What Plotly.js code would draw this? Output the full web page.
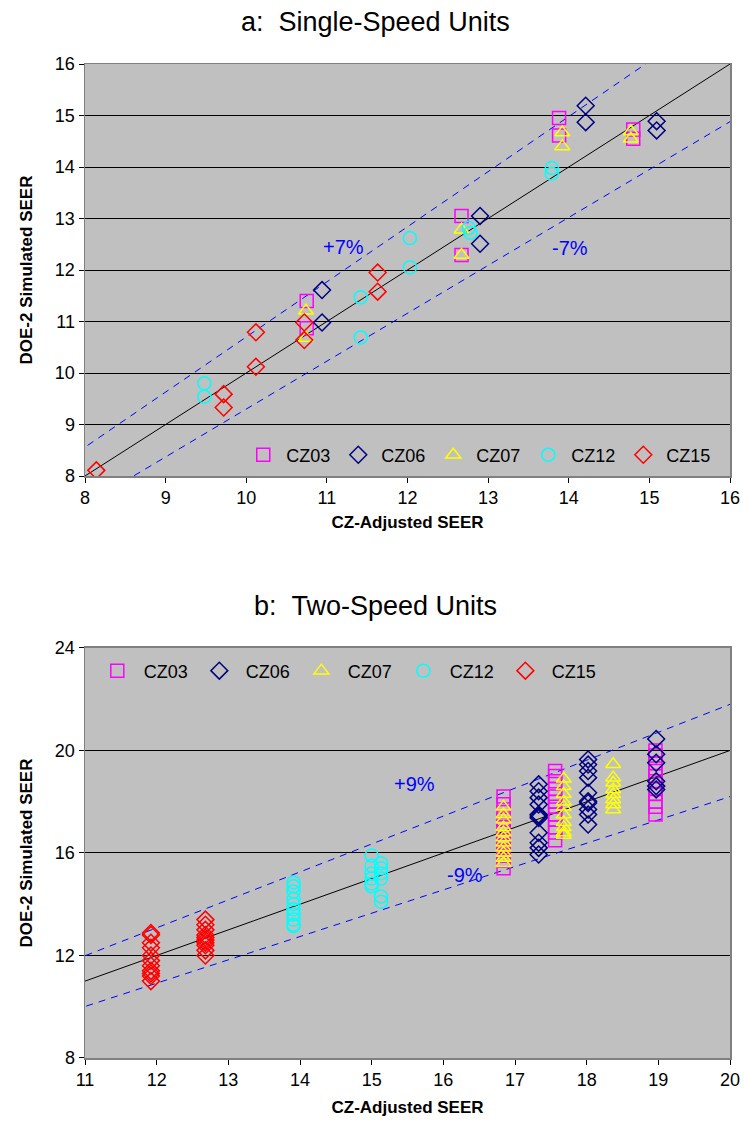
<!DOCTYPE html>
<html>
<head>
<meta charset="utf-8">
<script src="https://cdn.plot.ly/plotly-3.0.1.min.js"></script>
<style>
  body { margin: 0; background: #fff; }
  #chart { width: 743px; height: 1125px; }
</style>
</head>
<body>
<div id="chart"></div>
<script>
// a: single-speed units (x = CZ-adjusted SEER, y = DOE-2 simulated SEER)
var cz03X_a = [10.75, 10.75, 12.67, 12.67, 13.88, 13.88, 14.80, 14.80];
var cz03Y_a = [11.40, 10.87, 13.05, 12.29, 14.95, 14.61, 14.73, 14.55];
var cz06X_a = [10.94, 10.94, 12.90, 12.90, 14.21, 14.21, 15.09, 15.09];
var cz06Y_a = [11.61, 10.98, 13.05, 12.51, 15.19, 14.87, 14.89, 14.71];
var cz07X_a = [10.74, 10.74, 12.67, 12.67, 13.92, 13.92, 14.77, 14.77];
var cz07Y_a = [11.21, 10.68, 12.78, 12.29, 14.67, 14.40, 14.69, 14.55];
var cz12X_a = [9.48, 9.48, 11.42, 11.42, 12.03, 12.03, 12.76, 12.78, 13.79, 13.79];
var cz12Y_a = [9.80, 9.54, 11.47, 10.69, 12.62, 12.05, 12.82, 12.72, 13.98, 13.87];
var cz15X_a = [8.14, 9.72, 9.72, 10.12, 10.12, 10.72, 10.72, 11.63, 11.63];
var cz15Y_a = [8.11, 9.59, 9.33, 10.79, 10.12, 10.98, 10.64, 11.95, 11.58];

// b: two-speed units, one x per column of points
var cz03X_b = [16.84, 17.56, 18.96];
var cz03Y_b = [
  [18.2, 17.9, 17.6, 17.3, 17.0, 16.8, 16.5, 16.3, 16.1, 15.9, 15.7, 15.4],
  [19.2, 19.0, 18.8, 18.5, 18.2, 18.0, 17.8, 17.5, 17.3, 17.0, 16.8, 16.5],
  [20.0, 19.8, 19.5, 19.2, 19.0, 18.8, 18.5, 18.3, 18.0, 17.8, 17.5]
];
var cz06X_b = [17.33, 18.02, 18.97];
var cz06Y_b = [
  [18.68, 18.41, 18.16, 17.89, 17.50, 17.44, 17.37, 16.79, 16.40, 16.20, 15.94],
  [19.65, 19.45, 19.20, 18.94, 18.35, 18.02, 17.95, 17.70, 17.50, 17.11],
  [20.45, 19.85, 19.52, 18.80, 18.61, 18.48]
];
var cz07X_b = [16.84, 17.68, 18.37];
var cz07Y_b = [
  [17.8, 17.5, 17.3, 17.0, 16.8, 16.6, 16.4, 16.2, 16.0, 15.8, 15.6],
  [18.9, 18.6, 18.3, 18.0, 17.8, 17.5, 17.2, 17.0, 16.8, 16.7],
  [19.46, 18.94, 18.74, 18.48, 18.29, 18.09, 17.89, 17.70]
];
var cz12X_b = [13.91, 15.0, 15.13];
var cz12Y_b = [
  [14.85, 14.7, 14.5, 14.2, 14.0, 13.8, 13.6, 13.4, 13.2, 13.15],
  [15.9, 15.5, 15.2, 15.0, 14.8, 14.7],
  [15.6, 15.4, 15.2, 15.0, 14.3, 14.1]
];
var cz15X_b = [11.92, 12.68];
var cz15Y_b = [
  [12.88, 12.8, 12.5, 12.3, 12.0, 11.8, 11.6, 11.4, 11.3, 11.2, 11.0],
  [13.4, 13.2, 13.0, 12.8, 12.7, 12.6, 12.5, 12.4, 12.2, 12.0]
];

var zones = ['CZ03', 'CZ06', 'CZ07', 'CZ12', 'CZ15'];
var colors = ['#ff00ff', '#000080', '#ffff00', '#00ffff', '#ff0000'];
var symbols = ['square-open', 'diamond-open', 'triangle-up-open', 'circle-open', 'diamond-open'];

function flatten(xs, ys) {
  var ox = [], oy = [];
  for (var i = 0; i < xs.length; i++) {
    for (var j = 0; j < ys[i].length; j++) {
      ox.push(xs[i]);
      oy.push(ys[i][j]);
    }
  }
  return {x: ox, y: oy};
}

var setA = [[cz03X_a, cz03Y_a], [cz06X_a, cz06Y_a], [cz07X_a, cz07Y_a], [cz12X_a, cz12Y_a], [cz15X_a, cz15Y_a]];
var setB = [flatten(cz03X_b, cz03Y_b), flatten(cz06X_b, cz06Y_b), flatten(cz07X_b, cz07Y_b),
            flatten(cz12X_b, cz12Y_b), flatten(cz15X_b, cz15Y_b)];

var data = [];

// 1:1 line and the +/- percentage bands
function refLines(x0, x1, pct, xa, ya) {
  var k = pct / 100;
  return [
    {x: [x0, x1], y: [x0, x1], xaxis: xa, yaxis: ya, mode: 'lines',
     line: {color: '#000', width: 1}, showlegend: false, hoverinfo: 'skip'},
    {x: [x0, x1], y: [x0 * (1 + k), x1 * (1 + k)], xaxis: xa, yaxis: ya, mode: 'lines',
     line: {color: '#0000ff', width: 1, dash: '7px,6px'}, showlegend: false, hoverinfo: 'skip'},
    {x: [x0, x1], y: [x0 * (1 - k), x1 * (1 - k)], xaxis: xa, yaxis: ya, mode: 'lines',
     line: {color: '#0000ff', width: 1, dash: '7px,6px'}, showlegend: false, hoverinfo: 'skip'}
  ];
}
data = data.concat(refLines(7.5, 16.5, 7, 'x', 'y'));
data = data.concat(refLines(10.5, 20.5, 9, 'x2', 'y2'));

for (var i = 0; i < zones.length; i++) {
  data.push({
    x: setA[i][0], y: setA[i][1], xaxis: 'x', yaxis: 'y',
    type: 'scatter', mode: 'markers', name: zones[i], legend: 'legend',
    marker: {symbol: symbols[i], size: 13, color: colors[i], line: {width: 1.5, color: colors[i]}}
  });
}
for (var i = 0; i < zones.length; i++) {
  data.push({
    x: setB[i].x, y: setB[i].y, xaxis: 'x2', yaxis: 'y2',
    type: 'scatter', mode: 'markers', name: zones[i], legend: 'legend2',
    marker: {symbol: symbols[i], size: 13, color: colors[i], line: {width: 1.5, color: colors[i]}}
  });
}

var fnt = 'Liberation Sans, Arial, sans-serif';
var axisBase = {
  showline: true, linecolor: '#808080', linewidth: 1.5, mirror: true,
  ticks: 'outside', ticklen: 5, tickcolor: '#000',
  tickfont: {family: fnt, size: 18, color: '#000'},
  zeroline: false
};
function ax(extra) { return Object.assign({}, axisBase, extra); }
var axTitleFont = {family: fnt, size: 17, color: '#000'};
var pctFont = {family: fnt, size: 20, color: '#0000ff'};

var layout = {
  width: 743, height: 1125,
  margin: {l: 85, r: 13, t: 64, b: 67},
  paper_bgcolor: '#fff',
  plot_bgcolor: '#c0c0c0',
  font: {family: fnt, color: '#000'},
  xaxis: ax({domain: [0, 1], range: [8, 16], dtick: 1, showgrid: false, anchor: 'y',
    title: {text: '<b>CZ-Adjusted SEER</b>', font: axTitleFont, standoff: 9}}),
  yaxis: ax({domain: [0.5855, 1], range: [8, 16], dtick: 1, showgrid: true, gridcolor: '#000', gridwidth: 1, anchor: 'x',
    title: {text: '<b>DOE-2 Simulated SEER</b>', font: axTitleFont, standoff: 18}}),
  xaxis2: ax({domain: [0, 1], range: [11, 20], dtick: 1, showgrid: false, anchor: 'y2',
    title: {text: '<b>CZ-Adjusted SEER</b>', font: axTitleFont, standoff: 12}}),
  yaxis2: ax({domain: [0, 0.4125], range: [8, 24], dtick: 4, showgrid: true, gridcolor: '#000', gridwidth: 1, anchor: 'x2',
    title: {text: '<b>DOE-2 Simulated SEER</b>', font: axTitleFont, standoff: 18}}),
  legend: {orientation: 'h', x: 0.2407, y: 0.588, xanchor: 'left', yanchor: 'bottom',
    bgcolor: 'rgba(0,0,0,0)', font: {family: fnt, size: 18}, itemwidth: 36, tracegroupgap: 0},
  legend2: {orientation: 'h', x: 0.009, y: 0.408, xanchor: 'left', yanchor: 'top',
    bgcolor: 'rgba(0,0,0,0)', font: {family: fnt, size: 18}, itemwidth: 43, tracegroupgap: 0},
  annotations: [
    {text: 'a:&nbsp;&nbsp;Single-Speed Units', xref: 'paper', yref: 'paper', x: 0.451, y: 1.0423,
     yanchor: 'middle', showarrow: false, font: {family: fnt, size: 27}},
    {text: 'b:&nbsp;&nbsp;Two-Speed Units', xref: 'paper', yref: 'paper', x: 0.451, y: 0.4547,
     yanchor: 'middle', showarrow: false, font: {family: fnt, size: 27}},
    {text: '+7%', xref: 'x', yref: 'y', x: 11.2, y: 12.45, showarrow: false, font: pctFont},
    {text: '-7%', xref: 'x', yref: 'y', x: 14.02, y: 12.42, showarrow: false, font: pctFont},
    {text: '+9%', xref: 'x2', yref: 'y2', x: 15.6, y: 18.7, showarrow: false, font: pctFont},
    {text: '-9%', xref: 'x2', yref: 'y2', x: 16.3, y: 15.15, showarrow: false, font: pctFont}
  ]
};

Plotly.newPlot('chart', data, layout, {staticPlot: true});
</script>
</body>
</html>
